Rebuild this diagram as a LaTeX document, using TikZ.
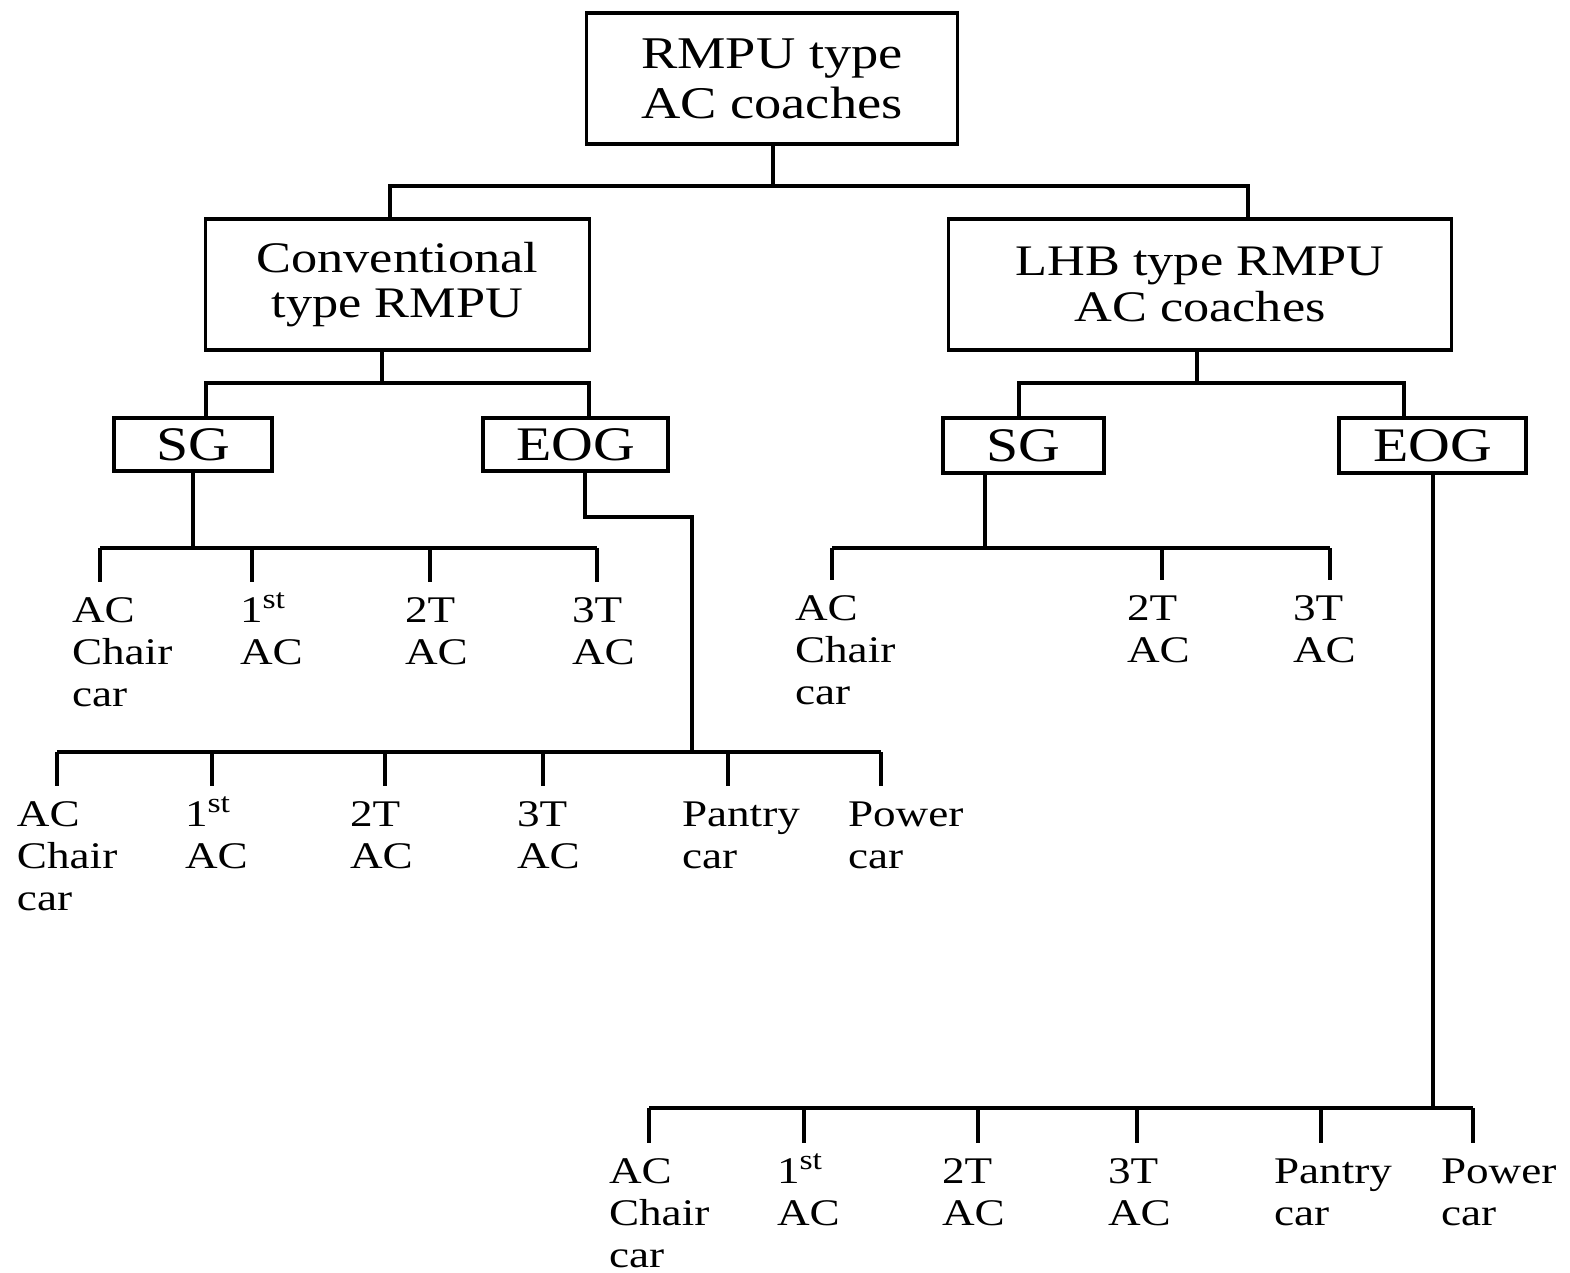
\documentclass[tikz,border=0pt]{standalone}
\usepackage{fontspec}
\setmainfont{Liberation Serif}[FakeStretch=1.2]
\newcommand{\fst}{1\smash{\textsuperscript{\footnotesize st}}}
\begin{document}
\begin{tikzpicture}[x=0.01cm,y=-0.01cm, line width=0.9pt,
  box/.style={draw, inner sep=0pt, align=center, minimum height=1.31cm, font=\fontsize{12.9pt}{14.2pt}\selectfont},
  sbox/.style={draw, inner sep=0pt, font=\fontsize{13.7pt}{16pt}\selectfont},
  leaf/.style={anchor=north west, inner sep=0pt, outer xsep=0pt, outer ysep=0.16cm, align=left, font=\fontsize{10.7pt}{11.95pt}\selectfont}]
\useasboundingbox (0,0) rectangle (1570,1272);

% boxes
\node[box, minimum width=3.70cm] (root) at (772,78.5) {RMPU type\\AC coaches};
\node[box, minimum width=3.83cm, font=\fontsize{12.4pt}{12.9pt}\selectfont] (conv) at (397.5,284.5) {Conventional\\type RMPU};
\node[box, minimum width=5.02cm, font=\fontsize{12.4pt}{12.9pt}\selectfont] (lhb) at (1200,284.5) {LHB type RMPU\\AC coaches};
\node[sbox, minimum width=1.58cm, minimum height=0.53cm] (sgl) at (193,444.5) {SG};
\node[sbox, minimum width=1.85cm, minimum height=0.53cm] (eogl) at (575.5,444.5) {EOG};
\node[sbox, minimum width=1.61cm, minimum height=0.55cm] (sgr) at (1023.5,445.5) {SG};
\node[sbox, minimum width=1.87cm, minimum height=0.55cm] (eogr) at (1432.5,445.5) {EOG};

% junctions
\coordinate (j0) at (773,186);
\coordinate (j1) at (382,383);
\coordinate (j2) at (1197,383);
\coordinate (j3) at (193,548);
\coordinate (j4) at (692,752);
\coordinate (j5) at (985,548);
\coordinate (j6) at (1433,1108);

\draw (root.south -| j0) -- (j0);
\draw (conv.north -| 390,0) |- (j0) -| (lhb.north -| 1248,0);
\draw (conv.south -| j1) -- (j1);
\draw (sgl.north -| 206,0) |- (j1) -| (eogl.north -| 589,0);
\draw (lhb.south -| j2) -- (j2);
\draw (sgr.north -| 1019,0) |- (j2) -| (eogr.north -| 1404,0);
\draw (sgl.south -| j3) -- (j3);
\draw (eogl.south -| 585,0) -- (585,517) -| (j4);
\draw (sgr.south -| j5) -- (j5);
\draw (eogr.south -| j6) -- (j6);

% row A (conventional SG)
\node[leaf] (a1) at (72,582) {AC\\Chair\\car};
\node[leaf] (a2) at (240,582) {\fst\\AC};
\node[leaf] (a3) at (405,582) {2T\\AC};
\node[leaf] (a4) at (572,582) {3T\\AC};
\draw (j3 -| 100,0) -- (j3 -| 597,0);
\foreach \n/\x in {a1/100,a2/252,a3/430,a4/597}
  \draw (j3 -| \x,0) -- (\n.north -| \x,0);

% row B (conventional EOG)
\node[leaf] (b1) at (17,786) {AC\\Chair\\car};
\node[leaf] (b2) at (185,786) {\fst\\AC};
\node[leaf] (b3) at (350,786) {2T\\AC};
\node[leaf] (b4) at (517,786) {3T\\AC};
\node[leaf] (b5) at (682,786) {Pantry\\car};
\node[leaf] (b6) at (848,786) {Power\\car};
\draw (j4 -| 57,0) -- (j4 -| 881,0);
\foreach \n/\x in {b1/57,b2/212,b3/385,b4/543,b5/728,b6/881}
  \draw (j4 -| \x,0) -- (\n.north -| \x,0);

% row C (LHB SG)
\node[leaf] (c1) at (795,580) {AC\\Chair\\car};
\node[leaf] (c2) at (1127,580) {2T\\AC};
\node[leaf] (c3) at (1293,580) {3T\\AC};
\draw (j5 -| 832,0) -- (j5 -| 1330,0);
\foreach \n/\x in {c1/832,c2/1162,c3/1330}
  \draw (j5 -| \x,0) -- (\n.north -| \x,0);

% row D (LHB EOG)
\node[leaf] (d1) at (609,1143) {AC\\Chair\\car};
\node[leaf] (d2) at (777,1143) {\fst\\AC};
\node[leaf] (d3) at (942,1143) {2T\\AC};
\node[leaf] (d4) at (1108,1143) {3T\\AC};
\node[leaf] (d5) at (1274,1143) {Pantry\\car};
\node[leaf] (d6) at (1441,1143) {Power\\car};
\draw (j6 -| 649,0) -- (j6 -| 1473,0);
\foreach \n/\x in {d1/649,d2/804,d3/978,d4/1137,d5/1321,d6/1473}
  \draw (j6 -| \x,0) -- (\n.north -| \x,0);
\end{tikzpicture}
\end{document}
